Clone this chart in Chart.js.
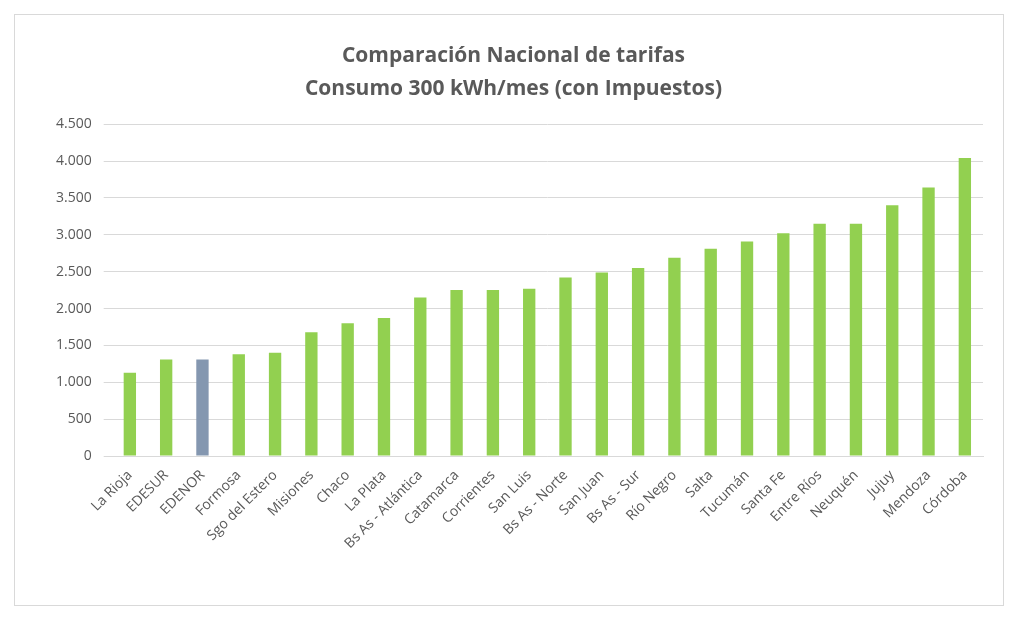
<!DOCTYPE html>
<html><head><meta charset="utf-8">
<script src="https://cdn.jsdelivr.net/npm/chart.js@4"></script>
<style>
body{margin:0;background:#fff;}
#box{position:absolute;left:14px;top:14px;width:990px;height:592px;border:1px solid #d9d9d9;box-sizing:border-box;}
</style></head><body>
<div id="box"><canvas id="c"></canvas></div>
<script>
const categories=["La Rioja","EDESUR","EDENOR","Formosa","Sgo del Estero","Misiones","Chaco","La Plata","Bs As - Atlántica","Catamarca","Corrientes","San Luis","Bs As - Norte","San Juan","Bs As - Sur","Río Negro","Salta","Tucumán","Santa Fe","Entre Ríos","Neuquén","Jujuy","Mendoza","Córdoba"];
const values=[1130,1310,1310,1380,1400,1680,1800,1870,2150,2250,2250,2270,2420,2490,2550,2690,2810,2910,3020,3150,3150,3400,3640,4040];
const titleLines=["Comparación Nacional de tarifas","Consumo 300 kWh/mes (con Impuestos)"];
const colors=categories.map(c=>c==="EDENOR"?"#8497B0":"#92D050");
new Chart(document.getElementById('c'),{
type:'bar',
data:{labels:categories,datasets:[{data:values,backgroundColor:colors,barPercentage:0.34,categoryPercentage:1}]},
options:{responsive:true,maintainAspectRatio:false,animation:false,
layout:{padding:{left:29,right:20,top:14,bottom:50}},
plugins:{legend:{display:false},tooltip:{enabled:false},
title:{display:true,text:titleLines,color:'#595959',font:{family:'Open Sans',size:21,weight:'bold',lineHeight:1.6},padding:{top:10,bottom:18}}},
scales:{
x:{grid:{display:false},border:{color:'#d9d9d9'},ticks:{color:'#595959',font:{family:'Open Sans',size:14},maxRotation:45,minRotation:45,autoSkip:false}},
y:{min:0,max:4500,grid:{color:'#d9d9d9'},border:{display:false},
ticks:{stepSize:500,color:'#595959',font:{family:'Open Sans',size:14},padding:12,callback:v=>v.toLocaleString('de-DE')}}
}}});
</script></body></html>
